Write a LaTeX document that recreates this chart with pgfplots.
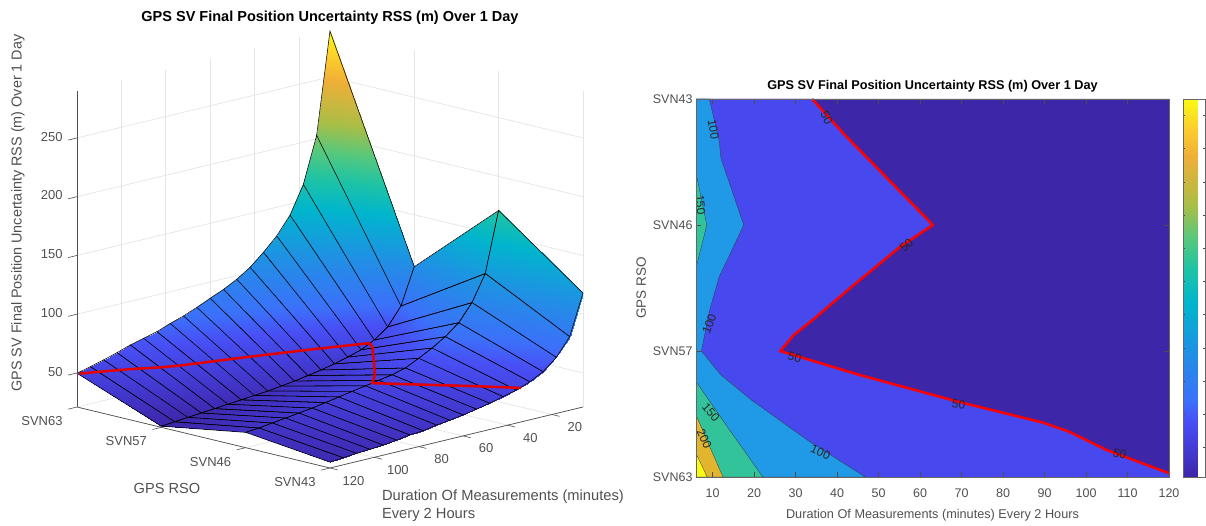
\documentclass[border=0pt]{standalone}
\usepackage{fontspec}
\setmainfont{Liberation Sans}
\usepackage{pgfplots}
\usepackage{pgfplotstable}
\pgfplotsset{compat=1.18}
\pgfplotsset{colormap={parula}{
 rgb255(0pt)=(61,38,168) rgb255(8pt)=(68,60,215) rgb255(15pt)=(72,80,245) rgb255(20pt)=(60,112,250)
 rgb255(33pt)=(32,144,228) rgb255(46pt)=(0,181,205) rgb255(55pt)=(30,195,165) rgb255(63pt)=(85,200,125)
 rgb255(72pt)=(170,190,70) rgb255(85pt)=(240,175,55) rgb255(92pt)=(252,205,45) rgb255(100pt)=(249,250,20)}}
\definecolor{cA}{HTML}{3D26A8}
\definecolor{cB}{HTML}{4748EE}
\definecolor{cC}{HTML}{209AE6}
\definecolor{cD}{HTML}{33C39A}
\definecolor{cE}{HTML}{E2B52E}
\definecolor{cF}{HTML}{F9F914}
\definecolor{tk}{HTML}{505050}
\pgfplotstableread{
x y z
6 0 289
12 0 203
18 0 164
24 0 140.6
30 0 125.6
36 0 114.4
42 0 104.4
48 0 96.9
54 0 91
60 0 86.2
66 0 81.2
72 0 76.6
78 0 73
84 0 68.7
90 0 65.8
96 0 62.9
102 0 59
108 0 55.6
114 0 52.6
120 0 49.7
6 1 105.8
12 1 75
18 1 60
24 1 51.6
30 1 46
36 1 42.5
42 1 39.5
48 1 37
54 1 35
60 1 33
66 1 31.5
72 1 30
78 1 29
84 1 28
90 1 27
96 1 26
102 1 25
108 1 24
114 1 23
120 1 22
6 2 171
12 2 120
18 2 98
24 2 83.6
30 2 74.5
36 2 67.5
42 2 61.5
48 2 56
54 2 53
60 2 51
66 2 49
72 2 47
78 2 45
84 2 43
90 2 41
96 2 39.5
102 2 38
108 2 36.5
114 2 35
120 2 34
6 3 118
12 3 83.6
18 3 68.7
24 3 59.2
30 3 53.4
36 3 49
42 3 46.2
48 3 43.3
54 3 41
60 3 38.8
66 3 37
72 3 35.7
78 3 33.6
84 3 32.7
90 3 31
96 3 29.5
102 3 28.7
108 3 28
114 3 27
120 3 26
}\surfdata
\pgfplotstableread{
x y z
120 0.03 50
105 0.214 50
95.9 0.36 50
89.6 0.432 50
68.9 0.60 50
45.4 0.81 50
26.3 1.0 50
29.6 1.128 50
34.6 1.26 50
43.6 1.512 50
55.3 1.83 50
63.1 2.0 50
41.8 2.717 50
34 3 50
}\contourfifty
\begin{document}
\begin{tikzpicture}[x=1pt,y=1pt]
\path[use as bounding box] (0,0) rectangle (1206,525);
\begin{axis}[
  at={(77pt,57pt)},anchor=south west,
  x={(-2.219pt,-0.535pt)},y={(84.33pt,-20.33pt)},z={(0pt,1.175pt)},
  xmin=6,xmax=120,ymin=0,ymax=3,zmin=21,zmax=290,
  xtick={20,40,60,80,100,120},ytick={0,1,2,3},ztick={50,100,150,200,250},
  yticklabels={SVN63,SVN57,SVN46,SVN43},
  /pgf/number format/assume math mode=true,
  grid=major,major grid style={draw=black!10,line width=0.7pt},
  axis line style={draw=none},
  tick style={draw=none},tick align=outside,tickpos=left,
  major tick length=6pt,
  tick label style={font=\fontsize{13}{13}\selectfont,text=tk},
  xticklabel style={xshift=10pt,yshift=-2pt},
  yticklabel style={xshift=-20pt,yshift=-1pt},
  zticklabel style={xshift=-5pt},
  clip=false,
  colormap name=parula,
]
\addplot3[surf,shader=faceted interp,faceted color=black,line width=0.55pt,
  mesh/rows=4,mesh/ordering=x varies] table[x=x,y=y,z=z]{\surfdata};
\addplot3[red!90!black,line width=2.5pt,line join=round] table[x=x,y=y,z=z]{\contourfifty};
\draw[tk,line width=0.7pt] (axis cs:120,0,21)--(axis cs:120,0,290);
\draw[tk,line width=0.7pt] (axis cs:120,0,21)--(axis cs:120,3,21)--(axis cs:6,3,21);
\pgfplotsinvokeforeach{20,40,60,80,100,120}{\draw[tk,line width=0.6pt] (axis cs:#1,3,21)--(axis cs:#1,3.09,21);}
\pgfplotsinvokeforeach{0,1,2,3}{\draw[tk,line width=0.6pt] (axis cs:120,#1,21)--(axis cs:124,#1,21);}
\pgfplotsinvokeforeach{50,100,150,200,250}{\draw[tk,line width=0.6pt] (axis cs:120,0,#1)--(axis cs:124,0,#1);}
\end{axis}
\node[font=\bfseries\fontsize{14.5}{14.5}\selectfont] at (330,507) {GPS SV Final Position Uncertainty RSS (m) Over 1 Day};
\node[rotate=90,font=\fontsize{14.4}{14.4}\selectfont,text=tk] at (18,312) {GPS SV Final Position Uncertainty RSS (m) Over 1 Day};
\node[font=\fontsize{14.6}{14.6}\selectfont,text=tk] at (167,37) {GPS RSO};
\node[anchor=west,font=\fontsize{14.7}{14.7}\selectfont,text=tk] at (378.5,28) {Duration Of Measurements (minutes)};
\node[anchor=west,font=\fontsize{14.7}{14.7}\selectfont,text=tk] at (378.5,10) {Every 2 Hours};

\begin{axis}[
  at={(696pt,48pt)},anchor=south west,scale only axis,width=473pt,height=378pt,
  xmin=6,xmax=120,ymin=0,ymax=3,
  xtick={10,20,...,120},ytick={0,1,2,3},
  yticklabels={SVN63,SVN57,SVN46,SVN43},
  /pgf/number format/assume math mode=true,
  tick align=inside,tickpos=both,major tick length=5pt,
  tick style={draw=black!70,line width=0.4pt},
  axis line style={draw=black!60,line width=0.4pt},
  tick label style={font=\fontsize{12.5}{12.5}\selectfont,text=tk},
  xticklabel style={yshift=-8pt},
  xlabel={Duration Of Measurements (minutes) Every 2 Hours},
  ylabel={GPS RSO},
  xlabel style={font=\fontsize{12.7}{12.7}\selectfont,text=tk,yshift=-5pt},
  ylabel style={font=\fontsize{13.5}{13.5}\selectfont,text=tk},
  title={GPS SV Final Position Uncertainty RSS (m) Over 1 Day},
  title style={font=\bfseries\fontsize{12.7}{12.7}\selectfont,yshift=-3pt},
  colormap name=parula,
  point meta min=21,point meta max=290,
  colorbar,
  colorbar style={at={(1.03,0)},anchor=south west,width=22pt,
    ytick={42,65.5,89,113,136.5,160,184,207.5,231,255,278.6},yticklabels={},
    tick align=inside,major tick length=2pt,
    axis line style={draw=black!60,line width=0.4pt}},
  axis on top,
]
% filled bands of the contour plot
\addplot[fill=cA,draw=none] coordinates {(6,0)(120,0)(120,3)(6,3)} \closedcycle;
\addplot[fill=cB,draw=none] coordinates {(120,0.03)(105,0.214)(95.9,0.36)(89.6,0.432)(68.9,0.60)(45.4,0.81)(26.3,1.0)(29.6,1.128)(34.6,1.26)(43.6,1.512)(55.3,1.83)(63.1,2.0)(41.8,2.717)(34,3)(6,3)(6,0)(120,0)};
\addplot[fill=cC,draw=black!80,line width=0.3pt] coordinates {(9.2,3)(11.6,2.664)(12,2.53)(17.5,2)(11.6,1.59)(9.3,1.327)(7.3,1)(12,0.81)(19.3,0.612)(32.8,0.294)(46.8,0)(6,0)(6,3)(9.2,3)};
\addplot[fill=cD,draw=black!80,line width=0.3pt] coordinates {(6,2.412)(8.6,2)(6,1.658)(6,2.412)};
\addplot[fill=cD,draw=black!80,line width=0.3pt] coordinates {(6,0.757)(13.8,0.387)(22.1,0)(6,0)(6,0.757)};
\addplot[fill=cE,draw=black!80,line width=0.3pt] coordinates {(6,0.4925)(9.3,0.241)(12.5,0)(6,0)(6,0.4925)};
\addplot[fill=cF,draw=black!80,line width=0.3pt] coordinates {(6,0.188)(8.7,0)(6,0)(6,0.188)};
\addplot[red,line width=2.5pt,line join=round] coordinates {(120,0.03)(105,0.214)(95.9,0.36)(89.6,0.432)(68.9,0.60)(45.4,0.81)(26.3,1.0)(29.6,1.128)(34.6,1.26)(43.6,1.512)(55.3,1.83)(63.1,2.0)(41.8,2.717)(34,3)};
\begin{scope}[every node/.style={font=\fontsize{12}{12}\selectfont,text=black!85,inner sep=0pt}]
\node[rotate=-65] at (axis cs:37.5,2.85) {50};
\node[rotate=-80] at (axis cs:10.2,2.76) {100};
\node[rotate=-85] at (axis cs:7.1,2.16) {150};
\node[rotate=45] at (axis cs:56.7,1.84) {50};
\node[rotate=70] at (axis cs:9.2,1.215) {100};
\node[rotate=-15] at (axis cs:29.8,0.95) {50};
\node[rotate=-50] at (axis cs:9.6,0.51) {150};
\node[rotate=-65] at (axis cs:8,0.3) {200};
\node[rotate=-25] at (axis cs:36,0.196) {100};
\node[rotate=-8] at (axis cs:69.3,0.58) {50};
\node[rotate=-15] at (axis cs:108.1,0.183) {50};
\end{scope}
\end{axis}
\end{tikzpicture}
\end{document}
